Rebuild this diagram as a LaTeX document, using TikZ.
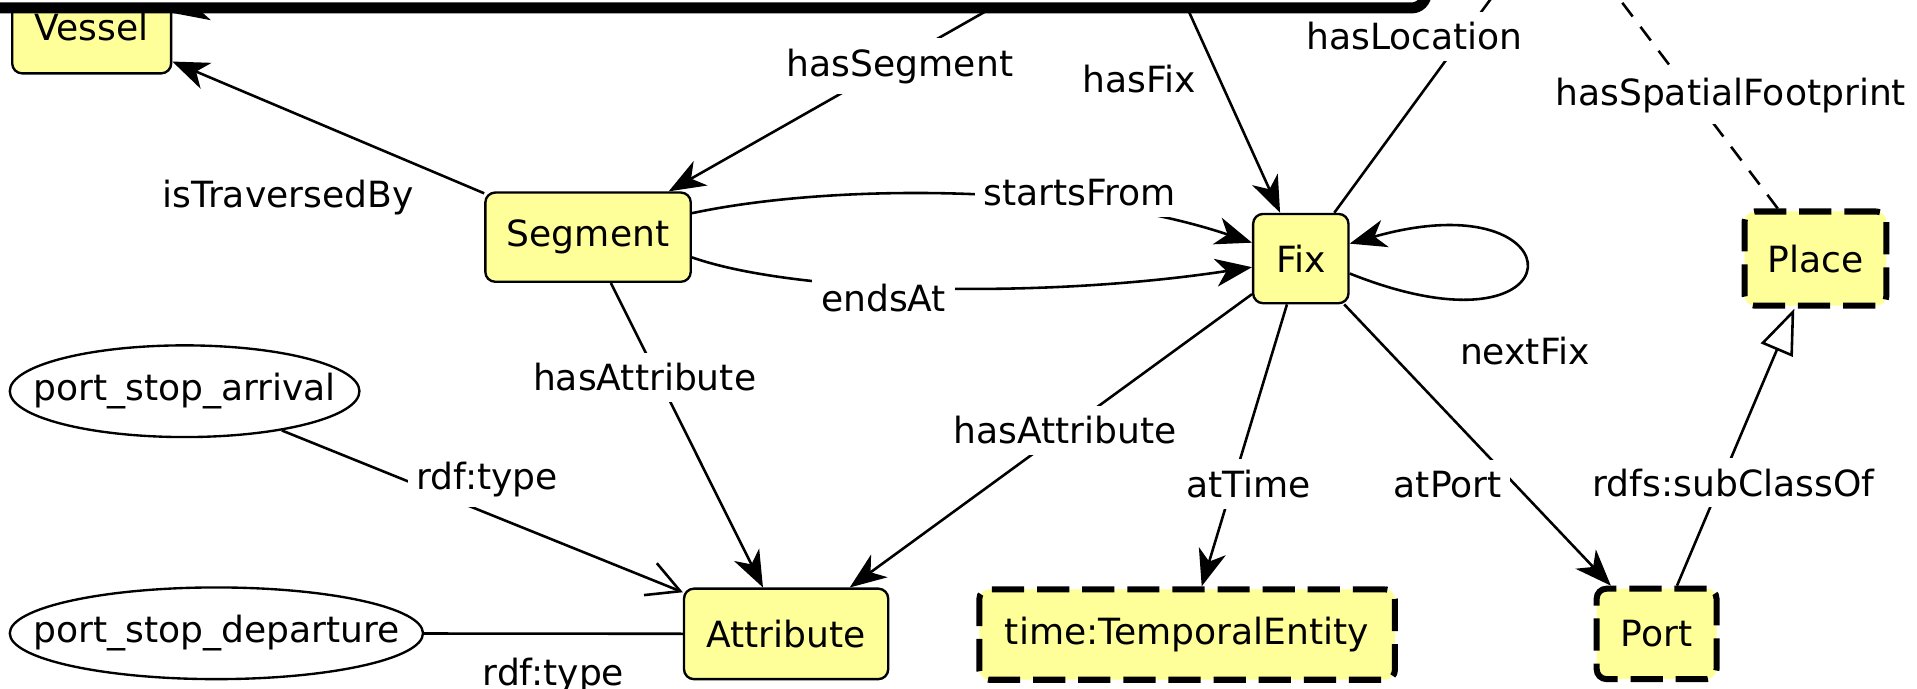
\documentclass[tikz,border=0pt]{standalone}
\usepackage{fontspec}
\setmainfont{DejaVu Sans}
\usepackage{xcolor}
\definecolor{classYellow}{HTML}{FFFF99}
\usetikzlibrary{shapes.geometric, arrows.meta, positioning}

\begin{document}
\begin{tikzpicture}[
    x=0.1mm, y=-0.1mm,
    font=\fontsize{8.4}{10}\selectfont,
    classbox/.style={
        rectangle,
        draw=black,
        line width=0.55pt,
        fill=classYellow,
        rounded corners=2.3pt,
        minimum height=7.3mm,
        align=center
    },
    extbox/.style={
        classbox,
        line width=1.4pt,
        dash pattern=on 7.5pt off 3pt
    },
    valnode/.style={
        ellipse,
        draw=black,
        line width=0.55pt,
        fill=white,
        inner xsep=-3.2mm,
        inner ysep=0pt,
        minimum height=7.5mm
    },
    rel/.style={-{Stealth[length=8.5pt, width=6.5pt, inset=2.5pt]}, line width=0.6pt},
    subcls/.style={-{Triangle[open, length=10.5pt, width=8pt]}, line width=0.6pt},
    typ/.style={-{Straight Barb[length=7.5pt, width=8pt]}, line width=0.6pt},
    lbl/.style={fill=white, inner xsep=2pt, inner ysep=2.5pt}
]
\useasboundingbox (0,0) rectangle (1568,563);

\node[classbox, minimum width=13mm, minimum height=7.5mm] (vessel) at (75,22.5) {Vessel};
\node[classbox, minimum width=16.8mm] (segment) at (481,194) {Segment};
\node[classbox, minimum width=7.8mm] (fix) at (1064,211.5) {Fix};
\node[extbox, minimum width=11.6mm, minimum height=7.7mm] (place) at (1485,211.5) {Place};
\node[classbox, minimum width=16.7mm, minimum height=7.4mm] (attribute) at (643,518.5) {Attribute};
\node[extbox, minimum width=34mm, minimum height=7.4mm] (temporal) at (971,519) {time:TemporalEntity};
\node[extbox, minimum width=9.8mm, minimum height=7.4mm] (port) at (1355,518.5) {Port};
\node[valnode, minimum width=28.6mm] (arrival) at (151,320) {port\_stop\_arrival};
\node[valnode, minimum width=33.8mm] (departure) at (177,518) {port\_stop\_departure};

\coordinate (tr0) at (420,-40);
\coordinate (tr1) at (812,6);
\coordinate (tr2) at (950,-40);
\coordinate (tr3) at (1248,-40);
\coordinate (tr4) at (1295,-40);

\draw[rel] (segment) -- node[lbl, pos=0.195, anchor=north east] {isTraversedBy} (vessel);
\draw[rel] (tr0) -- (vessel);
\draw[rel] (tr1) -- node[lbl, pos=0.32, xshift=0.9mm] {hasSegment} (segment);
\draw[rel] (tr2) -- node[lbl, pos=0.49, left=1.1mm] {hasFix} (fix);
\draw[rel] (fix) -- node[lbl, pos=0.674, xshift=-4mm] {hasLocation} (tr3);
\draw[rel, dash pattern=on 4pt off 3pt] (place) -- node[lbl, pos=0.437, xshift=3.1mm] {hasSpatialFootprint} (tr4);
\draw[rel] (segment.13) .. controls (680,150) and (880,150) .. node[lbl, pos=0.7, yshift=0.95mm] {startsFrom} (fix.162);
\draw[rel] (segment.-11) .. controls (650,240) and (850,245) .. node[lbl, pos=0.42, yshift=-1mm] {endsAt} (fix.190);
\draw[rel] (fix.-17) .. controls (1295,300) and (1295,145) .. node[lbl, pos=0.5, below=4.6mm] {nextFix} (fix.17);
\draw[rel] (segment) -- node[lbl, pos=0.31, xshift=-1.1mm] {hasAttribute} (attribute);
\draw[rel] (fix) -- node[lbl, pos=0.464] {hasAttribute} (attribute);
\draw[rel] (fix) -- node[lbl, pos=0.637, xshift=1.3mm] {atTime} (temporal);
\draw[rel] (fix) -- node[lbl, pos=0.64, xshift=-5.5mm] {atPort} (port);
\draw[subcls] (port) -- node[lbl, pos=0.372, xshift=1.05mm] {rdfs:subClassOf} (place);
\draw[typ] (arrival) -- node[lbl, pos=0.384, xshift=4.2mm, yshift=1.1mm] {rdf:type} (attribute);
\draw[line width=0.6pt] (departure) -- node[lbl, below=3pt] {rdf:type} (attribute);

\node[draw=black, fill=white, line width=0.9mm, rounded corners=1.2mm, minimum width=119.65mm, minimum height=11.65mm, inner sep=0pt] (track) at (568.25,-51.75) {};
\end{tikzpicture}
\end{document}
